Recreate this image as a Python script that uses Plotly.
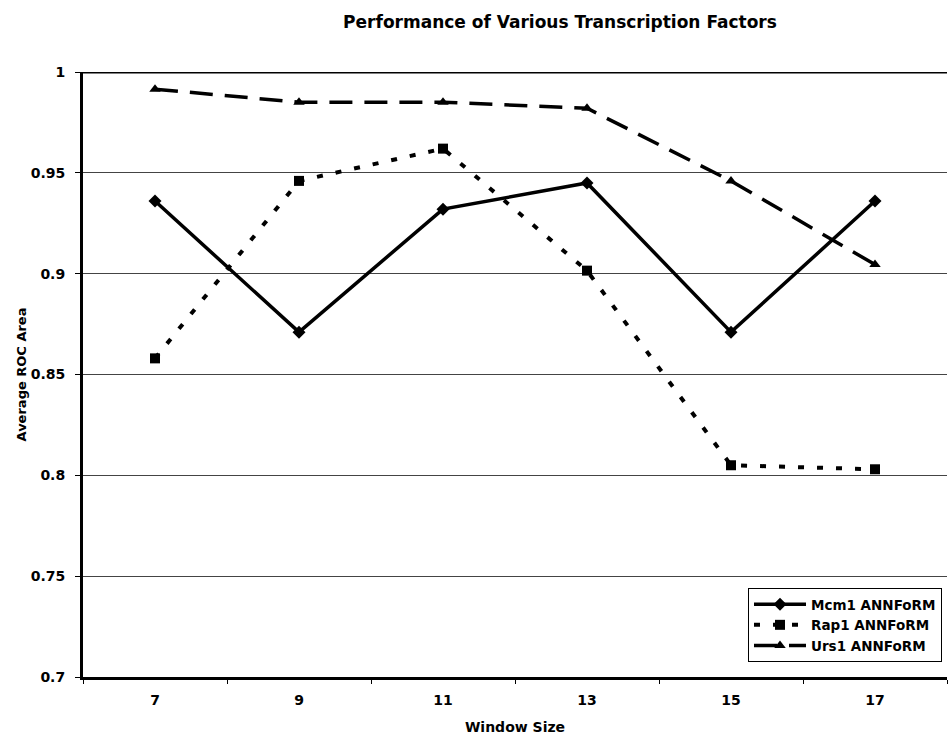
import plotly.graph_objects as go

window_sizes = ["7", "9", "11", "13", "15", "17"]
mcm1_roc = [0.936, 0.871, 0.932, 0.945, 0.871, 0.936]
rap1_roc = [0.858, 0.946, 0.962, 0.9015, 0.805, 0.803]
urs1_roc = [0.9915, 0.985, 0.985, 0.982, 0.946, 0.9045]
y_ticks = [0.7, 0.75, 0.8, 0.85, 0.9, 0.95, 1.0]

FONT = "DejaVu Sans, Verdana, sans-serif"


def bold(size):
    return dict(size=size, family=FONT, weight="bold", color="black")


fig = go.Figure()

series = [
    ("Mcm1 ANNFoRM", mcm1_roc, "solid", "diamond", 10, 3.5),
    ("Rap1 ANNFoRM", rap1_roc, "6px,13px", "square", 10, 4),
    ("Urs1 ANNFoRM", urs1_roc, "23px,12px", "triangle-up", 10, 3.5),
]
for name, vals, dash, symbol, msize, lw in series:
    fig.add_trace(go.Scatter(
        x=window_sizes, y=vals, name=name, mode="lines+markers",
        line=dict(color="black", width=lw, dash=dash),
        marker=dict(symbol=symbol, size=msize, color="black"),
    ))

# heavy top border of the plot area
fig.add_shape(type="line", xref="paper", yref="y", x0=0, x1=1, y0=1.0, y1=1.0,
              line=dict(color="black", width=3), layer="above")

fig.update_layout(
    width=949, height=736,
    margin=dict(l=83, r=2, t=72, b=59),
    paper_bgcolor="white", plot_bgcolor="white",
    font=dict(family=FONT, color="black"),
    title=dict(text="Performance of Various Transcription Factors",
               x=560 / 949, xanchor="center", xref="container",
               y=1 - 22 / 736, yanchor="middle",
               font=bold(17)),
    showlegend=True,
    legend=dict(x=(748 - 83) / 864, y=(677 - 588) / 605, xanchor="left", yanchor="top",
                bordercolor="black", borderwidth=1, bgcolor="white",
                font=bold(13.5), itemwidth=52, tracegroupgap=0),
    xaxis=dict(
        type="category", range=[-0.5, 5.5],
        showline=True, linecolor="black", linewidth=3,
        ticks="outside", tickson="boundaries", ticklen=4, tickcolor="black",
        ticklabelstandoff=8,
        showgrid=False, zeroline=False,
        tickfont=bold(14),
        title=dict(text="Window Size", standoff=16, font=bold(14)),
    ),
    yaxis=dict(
        range=[0.7, 1.0], tickvals=y_ticks, ticktext=[f"{v:g}" for v in y_ticks],
        showline=True, linecolor="black", linewidth=3,
        ticks="outside", ticklen=5, tickcolor="black",
        ticklabelstandoff=7,
        showgrid=True, gridcolor="#444444", gridwidth=1, zeroline=False,
        tickfont=bold(14),
        title=dict(text="Average ROC Area", standoff=2, font=bold(13)),
    ),
)

fig.write_html("out.html")
